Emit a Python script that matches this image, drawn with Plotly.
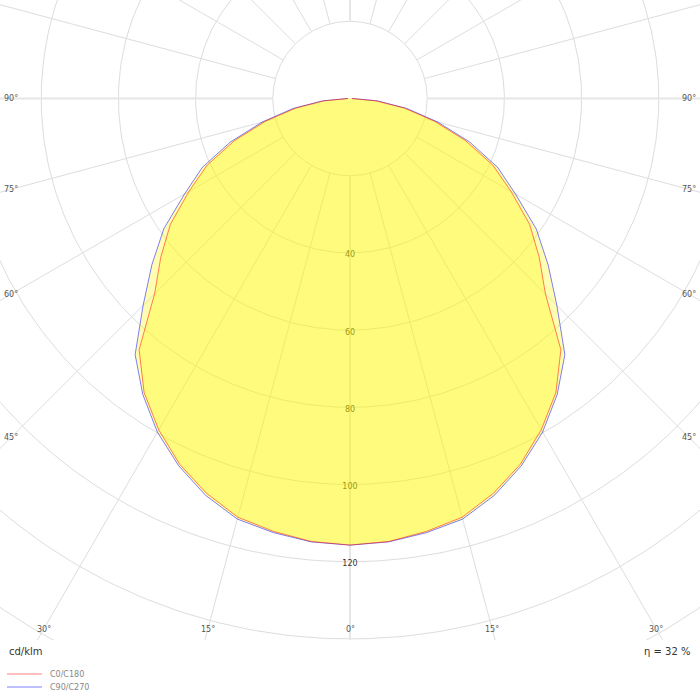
import numpy as np
import plotly.graph_objects as go

# gamma angles (deg from nadir) and intensities in cd/klm for each C-plane pair
gamma = [0, 5, 10, 15, 20, 25, 30, 35, 40, 45, 50, 55, 60, 65, 70, 75, 80, 85, 90]
c0_c180 = [115.7, 115.2, 113.9, 112.3, 108.8, 104.5, 99.1, 93.0, 85.0, 71.6,
           64.0, 56.8, 48.2, 40.8, 31.8, 22.6, 14.3, 6.6, 0.5]
c90_c270 = [115.7, 115.3, 114.2, 112.8, 109.4, 105.0, 99.8, 93.6, 86.6, 75.8,
            67.0, 58.9, 49.5, 42.2, 33.0, 23.5, 15.0, 7.2, 0.5]

ring_values = [20, 40, 60, 80, 100, 120, 140, 160, 180, 200]
ring_labels = [40, 60, 80, 100, 120]
spoke_angles = list(range(0, 360, 15))
angle_labels = [0, 15, 30, 45, 60, 75, 90]
unit_text = "cd/klm"
eta_text = "η = 32 %"
series_names = ["C0/C180", "C90/C270"]

W, H = 700, 700
PLOT_H = 640          # grid area height in px, footer below
CX, CY = 350, 98.5    # pole position in px
SCALE = 3.86          # px per cd/klm

x_range = [-CX / SCALE, (W - CX) / SCALE]
y_range = [-(PLOT_H - CY) / SCALE, CY / SCALE]

GRID = "#dddddd"
FONT = "DejaVu Sans"


def curve_xy(vals):
    g = np.radians(gamma)
    r = np.array(vals)
    # left half (C180 / C270) from horizontal down to nadir, then right half back up
    xl, yl = -r[::-1] * np.sin(g[::-1]), -r[::-1] * np.cos(g[::-1])
    xr, yr = r[1:] * np.sin(g[1:]), -r[1:] * np.cos(g[1:])
    return np.concatenate([xl, xr]), np.concatenate([yl, yr])


fig = go.Figure()

# rings
t = np.linspace(0, 2 * np.pi, 361)
rx, ry = [], []
for rv in ring_values:
    rx += list(rv * np.sin(t)) + [None]
    ry += list(rv * np.cos(t)) + [None]
fig.add_trace(go.Scatter(x=rx, y=ry, mode="lines", line=dict(color=GRID, width=1),
                         hoverinfo="skip", showlegend=False))

# spokes (start on the first ring)
sx, sy, ax_x, ax_y = [], [], [], []
for a in spoke_angles:
    ar = np.radians(a)
    seg_x = [ring_values[0] * np.sin(ar), 400 * np.sin(ar), None]
    seg_y = [-ring_values[0] * np.cos(ar), -400 * np.cos(ar), None]
    if a % 90 == 0:
        ax_x += seg_x
        ax_y += seg_y
    else:
        sx += seg_x
        sy += seg_y
fig.add_trace(go.Scatter(x=sx, y=sy, mode="lines", line=dict(color=GRID, width=1),
                         hoverinfo="skip", showlegend=False))
fig.add_trace(go.Scatter(x=ax_x, y=ax_y, mode="lines", line=dict(color="#e6e6e6", width=2),
                         hoverinfo="skip", showlegend=False))

# ring value labels along the nadir, sitting just under each ring
fig.add_trace(go.Scatter(x=[0] * len(ring_labels), y=[-v - 2.5 / SCALE for v in ring_labels],
                         text=[str(v) for v in ring_labels], mode="text",
                         textfont=dict(family=FONT, size=8, color="#333333"),
                         hoverinfo="skip", showlegend=False))

# the two curves
for vals, name, col in [(c90_c270, series_names[1], "rgba(0,0,255,0.5)"),
                        (c0_c180, series_names[0], "rgba(255,0,0,0.5)")]:
    cx_, cy_ = curve_xy(vals)
    fig.add_trace(go.Scatter(x=cx_, y=cy_, mode="lines", fill="toself",
                             fillcolor="rgba(255,250,0,0.3)",
                             line=dict(color=col, width=1), name=name,
                             hoverinfo="skip", showlegend=False))

# angle labels where each spoke meets the frame
x_lim = (CX - 11) / SCALE
y_lim = (629 - CY) / SCALE
annotations = []
for a in angle_labels:
    ar = np.radians(a)
    s, c = np.sin(ar), np.cos(ar)
    tt = min(x_lim / s if s > 1e-9 else 1e9, y_lim / c if c > 1e-9 else 1e9)
    for side in ([-1, 1] if a else [1]):
        annotations.append(dict(x=side * tt * s, y=-tt * c, xref="x", yref="y",
                                text=f"{a}°", showarrow=False,
                                font=dict(family=FONT, size=8, color="#555555")))

annotations.append(dict(x=7 / W, y=1 - 651 / H, xref="paper", yref="paper", text=unit_text,
                        showarrow=False, xanchor="left", yanchor="middle",
                        font=dict(family=FONT, size=10, color="#333333")))
annotations.append(dict(x=692 / W, y=1 - 651 / H, xref="paper", yref="paper", text=eta_text,
                        showarrow=False, xanchor="right", yanchor="middle",
                        font=dict(family=FONT, size=10, color="#333333")))

# legend drawn by hand in the footer
shapes = []
for i, (name, col) in enumerate(zip(series_names, ["rgba(255,0,0,0.25)", "rgba(0,0,255,0.25)"])):
    yy = 1 - (674 + 13 * i) / H
    shapes.append(dict(type="line", xref="paper", yref="paper", x0=7 / W, x1=42 / W,
                       y0=yy, y1=yy, line=dict(color=col, width=2)))
    annotations.append(dict(x=48 / W, y=yy, xref="paper", yref="paper", text=name,
                            showarrow=False, xanchor="left", yanchor="middle",
                            font=dict(family=FONT, size=8, color="#888888")))

fig.update_layout(
    width=W, height=H,
    margin=dict(l=0, r=0, t=0, b=0),
    paper_bgcolor="white", plot_bgcolor="white",
    xaxis=dict(range=x_range, visible=False, domain=[0, 1], fixedrange=True),
    yaxis=dict(range=y_range, visible=False, domain=[1 - PLOT_H / H, 1], fixedrange=True),
    annotations=annotations,
    shapes=shapes,
    showlegend=False,
)

# drop the browser's default page margin so the figure sits at the window's corner
fig.write_html("out.html", config={"displayModeBar": False},
               post_script="document.body.style.margin='0';")
